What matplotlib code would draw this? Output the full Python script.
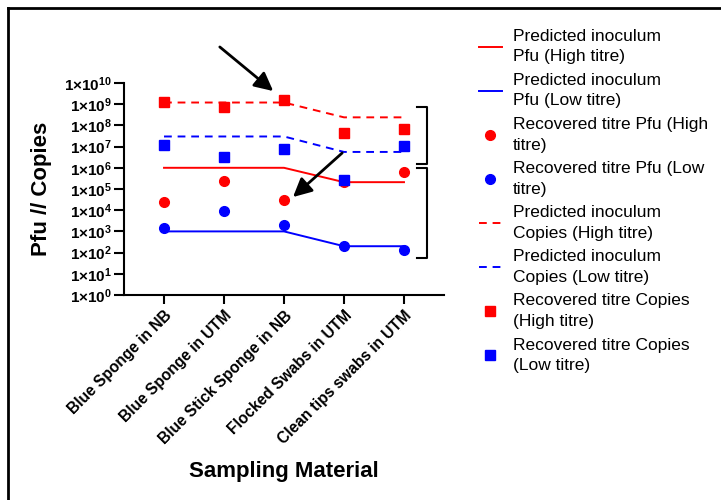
import numpy as np
import matplotlib.pyplot as plt
from matplotlib.lines import Line2D

plt.rcParams['font.family'] = ['Liberation Sans', 'DejaVu Sans']
plt.rcParams['mathtext.fontset'] = 'custom'
plt.rcParams['mathtext.rm'] = 'Liberation Sans'
plt.rcParams['mathtext.bf'] = 'Liberation Sans:bold'

# Data
materials = ['Blue Sponge in NB', 'Blue Sponge in UTM', 'Blue Stick Sponge in NB',
             'Flocked Swabs in UTM', 'Clean tips swabs in UTM']
pred_pfu_high = [1.0e6, 1.0e6, 1.0e6, 2.1e5, 2.1e5]
pred_pfu_low = [1.0e3, 1.0e3, 1.0e3, 2.0e2, 2.0e2]
rec_pfu_high = [2.4e4, 2.4e5, 2.9e4, 2.1e5, 6.2e5]
rec_pfu_low = [1.45e3, 9.5e3, 1.9e3, 2.0e2, 1.4e2]
pred_cop_high = [1.2e9, 1.2e9, 1.2e9, 2.4e8, 2.4e8]
pred_cop_low = [3.0e7, 3.0e7, 3.0e7, 5.6e6, 5.6e6]
rec_cop_high = [1.3e9, 7.0e8, 1.5e9, 4.2e7, 7.0e7]
rec_cop_low = [1.2e7, 3.2e6, 7.4e6, 2.6e5, 1.07e7]
decades = list(range(0, 11))

x = np.arange(len(materials))
red = '#ff0000'
blue = '#0000ff'

fig = plt.figure(figsize=(7.21, 5.0), dpi=100)
ax = fig.add_axes([124/721, 1 - 295/500, 320/721, 212/500])

lw = 1.4
ax.plot(x, pred_pfu_high, color=red, lw=lw, label='Predicted inoculum\nPfu (High titre)')
ax.plot(x, pred_pfu_low, color=blue, lw=lw, label='Predicted inoculum\nPfu (Low titre)')
ax.plot(x, rec_pfu_high, 'o', color=red, ms=7, ls='none', label='Recovered titre Pfu (High\ntitre)')
ax.plot(x, rec_pfu_low, 'o', color=blue, ms=7, ls='none', label='Recovered titre Pfu (Low\ntitre)')
ax.plot(x, pred_cop_high, color=red, lw=lw, ls=(0, (4, 3)), label='Predicted inoculum\nCopies (High titre)')
ax.plot(x, pred_cop_low, color=blue, lw=lw, ls=(0, (4, 3)), label='Predicted inoculum\nCopies (Low titre)')
ax.plot(x, rec_cop_high, 's', color=red, ms=7, ls='none', label='Recovered titre Copies\n(High titre)')
ax.plot(x, rec_cop_low, 's', color=blue, ms=7, ls='none', label='Recovered titre Copies\n(Low titre)')

ax.set_yscale('log')
ax.set_ylim(1, 1e10)
ax.set_xlim(-0.667, 4.667)
ax.set_yticks([10.0**d for d in decades])
ax.set_yticklabels([r'$\mathbf{1{\times}10^{%d}}$' % d for d in decades])
ax.yaxis.set_minor_locator(plt.NullLocator())
ax.set_xticks(x)
ax.set_xticklabels(materials, rotation=45, ha='right', va='top', rotation_mode='anchor',
                   fontweight='bold', fontsize=11.2)
ax.tick_params(axis='y', labelsize=11, length=7.5, width=1.5, pad=1)
ax.tick_params(axis='x', length=6.5, width=1.5, pad=3)
for s in ['top', 'right']:
    ax.spines[s].set_visible(False)
for s in ['left', 'bottom']:
    ax.spines[s].set_linewidth(1.5)

ax.set_ylabel('Pfu // Copies', fontsize=16, fontweight='bold')
ax.yaxis.set_label_coords((52 - 124) / 320, 0.5)
fig.text(284/721, 1 - 472/500, 'Sampling Material', fontsize=16, fontweight='bold',
         ha='center', va='center')

# arrows
arrow = dict(arrowstyle='-|>', color='k', lw=2, mutation_scale=28, shrinkA=0, shrinkB=0)
ax.annotate('', xy=(1.82, 10**9.62), xytext=(0.93, 10**11.7), arrowprops=arrow,
            annotation_clip=False)
ax.annotate('', xy=(2.15, 10**4.62), xytext=(2.97, 10**6.7), arrowprops=arrow,
            annotation_clip=False)

# brackets
bx, bt = 4.38, 4.22
for lo, hi in [(6.18, 8.87), (1.75, 5.99)]:
    ax.plot([bt, bx, bx, bt], [10**hi, 10**hi, 10**lo, 10**lo], color='k', lw=1.5,
            clip_on=False)

leg = ax.legend(loc='upper left', bbox_to_anchor=(479/721, 1 - 29/500),
                bbox_transform=fig.transFigure, frameon=False, fontsize=12.5,
                handlelength=1.3, handletextpad=0.65, labelspacing=0.5,
                borderaxespad=0, borderpad=0)
for t in leg.get_texts():
    t.set_linespacing(1.45)

# frame lines at left and top
fig.add_artist(Line2D([8/721, 8/721], [0, 1 - 8/500], color='k', lw=2))
fig.add_artist(Line2D([8/721, 1], [1 - 8/500, 1 - 8/500], color='k', lw=2))

fig.savefig('out.png', dpi=100)
